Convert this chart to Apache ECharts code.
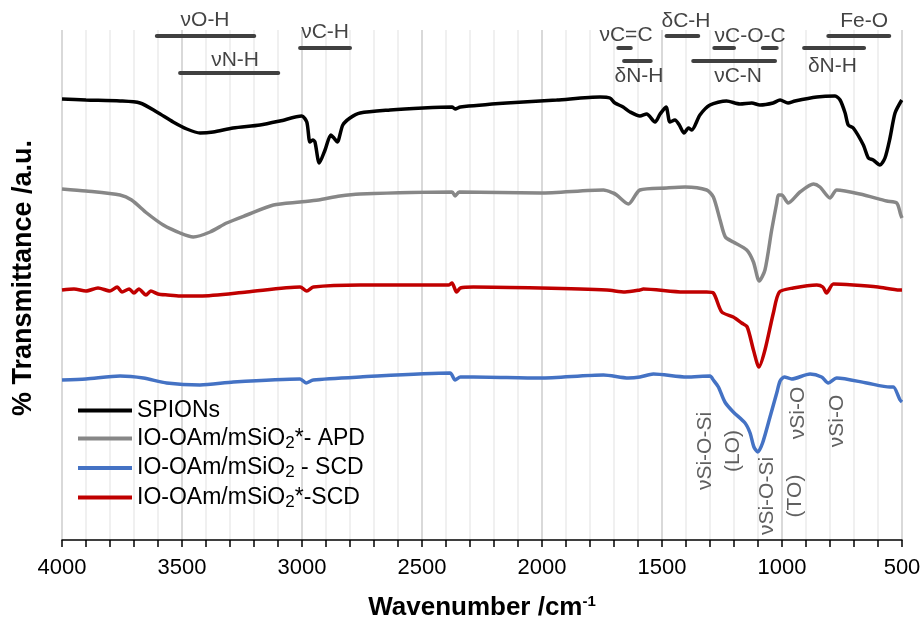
<!DOCTYPE html>
<html><head><meta charset="utf-8">
<script src="https://cdn.jsdelivr.net/npm/echarts@6/dist/echarts.min.js"></script>
<style>html,body{margin:0;padding:0;background:#fff}#c{width:923px;height:620px}</style>
</head><body><div id="c"></div>
<script>
// [wavenumber cm^-1, transmittance (a.u., offset traces)]
const spions = [[4000,441],[3900,440],[3758,439],[3675,437],[3605,428],[3537,418],[3480,411],[3425,407],[3370,408],[3287,412],[3175,415],[3092,419],[3001,424],[2980,418],[2967,398],[2955,400],[2946,398],[2928,377],[2904,390],[2880,405],[2867,402],[2853,398],[2830,415],[2800,422],[2758,427],[2633,430],[2496,432],[2375,433],[2362,431],[2340,433],[2147,437],[1939,440],[1758,443],[1717,442],[1696,437],[1662,433],[1633,428],[1592,424],[1564,426],[1529,418],[1508,426],[1483,433],[1467,418],[1446,420],[1428,415],[1408,407],[1390,412],[1376,410],[1342,425],[1300,435],[1231,439],[1175,436],[1126,437],[1092,435],[1037,437],[1008,440],[975,437],[946,439],[855,443],[779,444],[758,440],[737,427],[724,415],[703,412],[661,395],[640,382],[620,380],[592,375],[571,382],[550,402],[529,427],[501,440]];
const apd = [[4000,351],[3900,349],[3758,345],[3710,340],[3647,327],[3578,315],[3508,307],[3453,303],[3383,308],[3314,317],[3230,325],[3119,335],[3008,338],[2932,340],[2842,344],[2758,346],[2375,348],[2362,344],[2345,348],[2008,347],[1744,350],[1703,347],[1689,345],[1640,336],[1592,350],[1481,352],[1404,353],[1314,350],[1286,343],[1258,320],[1236,303],[1203,298],[1147,290],[1119,278],[1095,259],[1071,270],[1043,310],[1022,337],[1015,345],[1001,345],[974,337],[925,348],[869,356],[842,353],[800,342],[772,350],[675,346],[564,339],[522,337],[505,325],[500,322]];
const scd = [[4000,160],[3900,161],[3758,164],[3661,162],[3564,157],[3425,155],[3286,158],[3008,161],[2983,157],[2953,160],[2758,163],[2383,167],[2362,160],[2340,163],[2286,163],[2008,162],[1744,165],[1640,162],[1592,163],[1536,166],[1397,163],[1300,164],[1286,160],[1265,153],[1238,138],[1203,128],[1154,117],[1133,107],[1117,93],[1101,88],[1081,97],[1050,123],[1022,147],[1008,159],[990,163],[960,161],[883,166],[835,163],[807,157],[772,162],[647,157],[550,153],[536,153],[508,140],[500,138]];
const scdStar = [[4000,250],[3950,251],[3900,249],[3850,252],[3800,249],[3770,253],[3750,248],[3720,251],[3700,247],[3680,251],[3650,245],[3630,249],[3600,246],[3560,245],[3508,244],[3425,244],[3230,248],[3008,253],[2980,249],[2953,253],[2758,255],[2390,255],[2375,257],[2356,248],[2340,252],[2286,253],[2008,252],[1730,250],[1654,248],[1592,250],[1578,251],[1411,248],[1314,248],[1286,247],[1251,228],[1203,223],[1168,217],[1145,213],[1119,190],[1096,173],[1071,190],[1036,227],[1011,248],[953,252],[855,255],[830,253],[814,247],[786,256],[703,255],[600,253],[510,250],[500,250]];

const seriesNames = ['SPIONs','IO-OAm/mSiO2*- APD','IO-OAm/mSiO2 - SCD','IO-OAm/mSiO2*-SCD'];
const seriesData = [spions, apd, scd, scdStar];
const seriesColors = ['#000000','#878787','#4472C4','#C00000'];
const drawOrder = [0,1,3,2];

// band assignment bars: [from, to, level]
const bandBars = [[3605,3199,504],[3508,3099,467],[3008,2800,492],[1682,1630,492],[1658,1547,479],[1481,1349,504],[1282,1200,492],[1080,1022,492],[1370,1029,479],[807,553,504],[908,658,492]];
// band labels: [wavenumber, level, text]
const bandLabels = [[3404,520,'νO-H'],[3279,480,'νN-H'],[2904,508,'νC-H'],[1650,505,'νC=C'],[1596,464,'δN-H'],[1400,519,'δC-H'],[1133,504,'νC-O-C'],[1183,464,'νC-N'],[658,519,'Fe-O'],[790,474,'δN-H']];
const siLabels = [[1262,89,'νSi-O-Si\n(LO)'],[1004,44,'νSi-O-Si\n(TO)'],[933,127,'νSi-O'],[771,119,'νSi-O']];

const FONT = '"Liberation Sans", Arial, sans-serif';
const chart = echarts.init(document.getElementById('c'), null, {renderer:'canvas'});

const series = [];
drawOrder.forEach(i => {
  series.push({
    name: seriesNames[i], type:'line', data: seriesData[i], symbol:'none', smooth:0.25,
    lineStyle:{color:seriesColors[i], width:3.5}, itemStyle:{color:seriesColors[i]},
    clip:false, z:3
  });
});
bandBars.forEach(b => {
  series.push({
    type:'line', data:[[b[0],b[2]],[b[1],b[2]]], symbol:'none', silent:true, clip:false,
    lineStyle:{color:'#404040', width:4, cap:'round'}, z:4
  });
});
series.push({
  type:'scatter', data: bandLabels, symbolSize:0, silent:true, clip:false,
  itemStyle:{color:'rgba(0,0,0,0)'},
  label:{show:true, position:'inside', formatter:p=>p.data[2], fontSize:21, color:'#141414', fontFamily:FONT}, z:5
});
series.push({
  type:'scatter', data: siLabels, symbolSize:0, silent:true, clip:false,
  itemStyle:{color:'rgba(0,0,0,0)'},
  label:{show:true, position:'inside', rotate:90, formatter:p=>p.data[2], fontSize:21, lineHeight:28, color:'#383838', fontFamily:FONT}, z:5
});

chart.setOption({
  animation:false,
  backgroundColor:'#ffffff',
  grid:{left:62, right:21, top:30, bottom:80, outerBoundsMode:'none', containLabel:false},
  legend:{
    data: seriesNames, orient:'vertical', left:73, top:394, icon:'rect',
    itemWidth:54, itemHeight:4, itemGap:5,
    formatter: name => {
      const k = name.indexOf('mSiO2');
      if (k < 0) return '{a|' + name + '}';
      return '{a|' + name.slice(0, k + 4) + '}{s|2}{a|' + name.slice(k + 5) + '}';
    },
    textStyle:{rich:{
      a:{fontSize:23, lineHeight:26, color:'#000', fontFamily:FONT},
      s:{fontSize:17, lineHeight:16, verticalAlign:'bottom', color:'#000', fontFamily:FONT}
    }}
  },
  xAxis:{
    type:'value', min:500, max:4000, interval:500, inverse:true,
    name:'{t|Wavenumber /cm}{sup|-1}', nameLocation:'middle', nameGap:54,
    nameTextStyle:{rich:{
      t:{fontSize:26, fontWeight:'bold', lineHeight:28, color:'#000', fontFamily:FONT},
      sup:{fontSize:15, fontWeight:'bold', lineHeight:15, verticalAlign:'top', color:'#000', fontFamily:FONT}
    }},
    axisLine:{show:true, onZero:false, lineStyle:{color:'#000', width:1.5}},
    axisTick:{show:true, inside:false, length:7, lineStyle:{color:'#000', width:1.5}},
    minorTick:{show:true, splitNumber:5, length:7, lineStyle:{color:'#000', width:1.5}},
    axisLabel:{fontSize:22, color:'#000', margin:17, fontFamily:FONT, formatter: v => String(v)},
    splitLine:{show:true, lineStyle:{color:'#d9d9d9', width:2}},
    minorSplitLine:{show:true, lineStyle:{color:'#ebebeb', width:1.5}}
  },
  yAxis:{
    type:'value', min:0, max:510,
    name:'% Transmittance /a.u.', nameLocation:'middle', nameGap:25,
    nameTextStyle:{fontSize:27, fontWeight:'bold', color:'#000', fontFamily:FONT, padding:[0,0,0,14]},
    axisLine:{show:false}, axisTick:{show:false}, axisLabel:{show:false}, splitLine:{show:false}
  },
  series
});
</script></body></html>
